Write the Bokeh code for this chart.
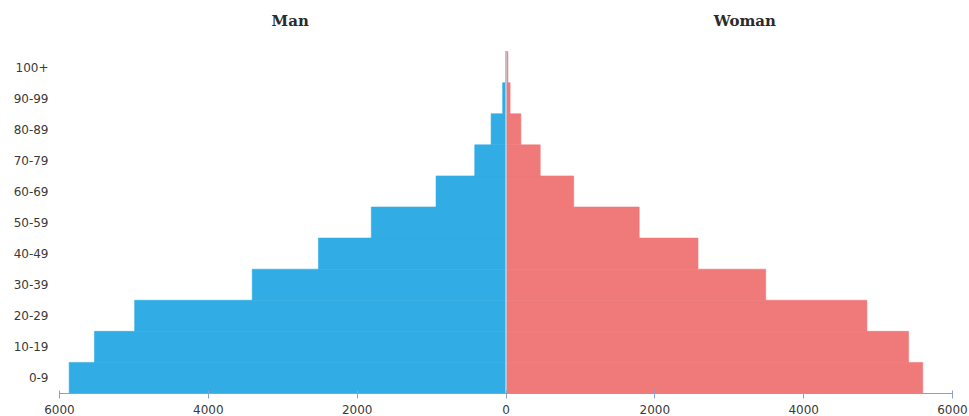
from bokeh.plotting import figure
from bokeh.models import Range1d, FixedTicker, ColumnDataSource
from bokeh.core.properties import value
from bokeh.embed import file_html
from bokeh.resources import INLINE

# ---- data ----
age_groups = ["0-9", "10-19", "20-29", "30-39", "40-49", "50-59",
              "60-69", "70-79", "80-89", "90-99", "100+"]
men = [5870, 5530, 4990, 3410, 2520, 1810, 940, 420, 200, 45, 5]
women = [5600, 5410, 4850, 3490, 2580, 1790, 910, 460, 200, 55, 25]
x_ticks = [-6000, -4000, -2000, 0, 2000, 4000, 6000]
titles = ["Man", "Woman"]

BLUE = "#31ace4"
PINK = "#f07979"

idx = list(range(len(age_groups)))
src = ColumnDataSource(dict(
    y=idx,
    men_left=[-v for v in men],
    women_right=women,
    zero=[0] * len(idx),
))

p = figure(width=969, height=416, output_backend="svg", toolbar_location=None,
           x_range=Range1d(x_ticks[0], x_ticks[-1]),
           y_range=Range1d(-0.5, 12.145),
           min_border_left=59, min_border_right=17,
           min_border_top=0, min_border_bottom=0,
           background_fill_color="white", border_fill_color="white")
p.outline_line_color = None
p.grid.visible = False

p.hbar(y="y", left="men_left", right="zero", height=1.0, source=src,
       fill_color=BLUE, line_color=BLUE, line_width=0.6)
p.hbar(y="y", left="zero", right="women_right", height=1.0, source=src,
       fill_color=PINK, line_color=PINK, line_width=0.6)

# centre divider
p.segment(x0=[0], y0=[-0.5], x1=[0], y1=[len(idx) - 0.5],
          line_color="#c3ccd6", line_width=1.6)

# side titles
p.text(x=[-2900, 3210], y=[11.48, 11.48], text=titles,
       text_font=value("DejaVu Serif"), text_font_style="bold",
       text_font_size="15px", text_color="#2b2b2b",
       text_align="center", text_baseline="middle")

# x axis
xa = p.xaxis[0]
xa.ticker = FixedTicker(ticks=x_ticks)
xa.major_label_overrides = {t: str(abs(t)) for t in x_ticks}
xa.axis_line_color = "#86a3cf"
xa.major_tick_line_color = "#86a3cf"
xa.major_tick_in = 3
xa.major_tick_out = 5
xa.minor_tick_line_color = None
xa.major_label_standoff = 6
xa.major_label_text_font = "DejaVu Sans"
xa.major_label_text_font_size = "12px"
xa.major_label_text_color = "#3a3a3a"

# y axis
ya = p.yaxis[0]
ya.ticker = FixedTicker(ticks=idx)
ya.major_label_overrides = {i: g for i, g in zip(idx, age_groups)}
ya.axis_line_color = None
ya.major_tick_line_color = None
ya.minor_tick_line_color = None
ya.major_tick_out = 0
ya.major_tick_in = 0
ya.major_label_standoff = 11
ya.major_label_text_font = "DejaVu Sans"
ya.major_label_text_font_size = "12px"
ya.major_label_text_color = "#3a3a3a"

open("out.html", "w").write(file_html(p, INLINE))
